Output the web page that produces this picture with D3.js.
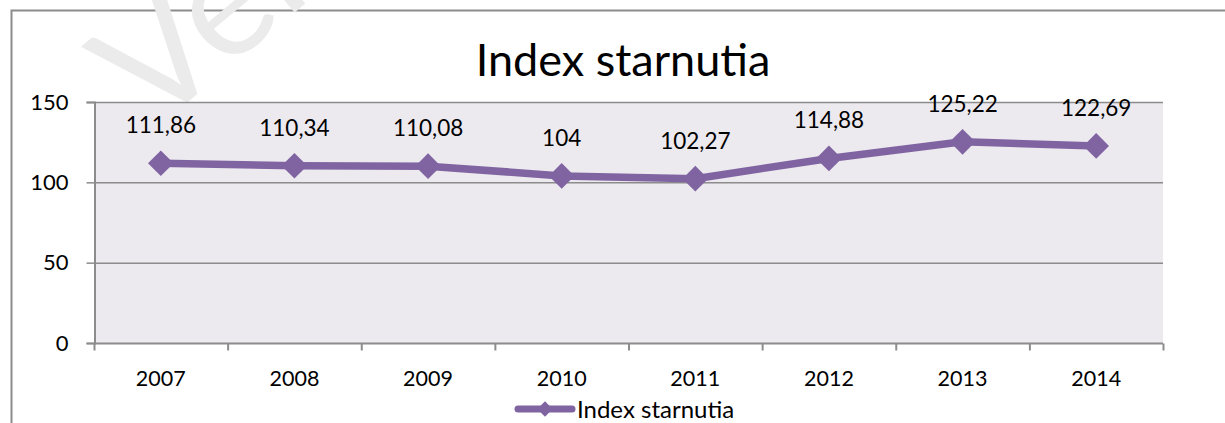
<!DOCTYPE html>
<html>
<head>
<meta charset="utf-8">
<script src="https://cdn.jsdelivr.net/npm/d3@7"></script>
<style>
  body { margin: 0; background: #fff; }
  svg { display: block; font-family: Lato, "Open Sans", sans-serif; }
</style>
</head>
<body>
<svg id="chart" width="1225" height="423"></svg>
<script>
// chart data
const years = ["2007", "2008", "2009", "2010", "2011", "2012", "2013", "2014"];
const indexValues = [111.86, 110.34, 110.08, 104, 102.27, 114.88, 125.22, 122.69];
const valueLabels = ["111,86", "110,34", "110,08", "104", "102,27", "114,88", "125,22", "122,69"];
const yTicks = [0, 50, 100, 150];
const seriesName = "Index starnutia";

const svg = d3.select("#chart");
const purple = "#8064a2";
const plot = { left: 94, right: 1163, top: 102, bottom: 343 };

// outer frame (runs off the right and bottom edge)
svg.append("path")
	.attr("d", "M11.5,430 V10.5 H1240")
	.attr("fill", "none")
	.attr("stroke", "#8c8c8c")
	.attr("stroke-width", 2);

// faint watermark, mostly hidden behind the plot area
svg.append("text")
	.attr("transform", "translate(152,132) rotate(-40)")
	.attr("font-size", 155)
	.attr("font-family", "Lato, sans-serif")
	.attr("fill", "#ebebeb")
	.text("Ver");

let x = d3.scaleBand().domain(years).range([plot.left, plot.right]);
let y = d3.scaleLinear().domain([0, 150]).range([plot.bottom, plot.top]);

svg.append("rect")
	.attr("x", plot.left).attr("y", plot.top)
	.attr("width", plot.right - plot.left).attr("height", plot.bottom - plot.top)
	.attr("fill", "#ece9ef");

// gridlines
svg.append("g")
	.selectAll("line")
	.data(yTicks.filter(d => d > 0))
	.enter().append("line")
	.attr("x1", plot.left).attr("x2", plot.right)
	.attr("y1", d => y(d) + 0.5).attr("y2", d => y(d) + 0.5)
	.attr("stroke", "#8c8c8c")
	.attr("stroke-width", 1.5);

// y axis
let yAxis = svg.append("g")
	.attr("transform", "translate(" + (plot.left + 0.5) + ",0)")
	.call(d3.axisLeft(y).tickValues(yTicks).tickSize(8).tickPadding(18));
yAxis.selectAll("text").attr("font-size", 22).attr("fill", "#000").attr("font-family", "Lato, sans-serif");
yAxis.select(".domain").attr("stroke", "#8c8c8c").attr("stroke-width", 2);
yAxis.selectAll(".tick line").attr("stroke", "#8c8c8c").attr("stroke-width", 1.5);

// x axis with ticks at category boundaries
let xg = svg.append("g").attr("transform", "translate(0," + (plot.bottom + 0.5) + ")");
xg.append("line").attr("x1", plot.left).attr("x2", plot.right).attr("stroke", "#8c8c8c").attr("stroke-width", 2);
xg.selectAll(".tk")
	.data(years.concat(["end"]))
	.enter().append("line")
	.attr("x1", (d, i) => plot.left + i * x.step() + 0.5)
	.attr("x2", (d, i) => plot.left + i * x.step() + 0.5)
	.attr("y1", 0).attr("y2", 7)
	.attr("stroke", "#8c8c8c").attr("stroke-width", 2);
xg.selectAll(".lbl")
	.data(years)
	.enter().append("text")
	.attr("x", d => x(d) + x.bandwidth() / 2)
	.attr("y", 42)
	.attr("text-anchor", "middle")
	.attr("font-size", 21.5)
	.text(d => d);

// title
svg.append("text")
	.attr("x", 623).attr("y", 76)
	.attr("text-anchor", "middle")
	.attr("font-size", 45)
	.text("Index starnutia");

// the series
let cx = d => x(d) + x.bandwidth() / 2;
let line = d3.line()
	.x((d, i) => cx(years[i]))
	.y(d => y(d));
svg.append("path")
	.datum(indexValues)
	.attr("d", line)
	.attr("fill", "none")
	.attr("stroke", purple)
	.attr("stroke-width", 7.5)
	.attr("stroke-linejoin", "round");

let diamond = d3.symbol().type(d3.symbolDiamond2).size(420);
svg.append("g")
	.selectAll("path")
	.data(indexValues)
	.enter().append("path")
	.attr("d", diamond)
	.attr("transform", (d, i) => "translate(" + cx(years[i]) + "," + y(d) + ")")
	.attr("fill", purple);

svg.append("g")
	.selectAll("text")
	.data(indexValues)
	.enter().append("text")
	.attr("x", (d, i) => cx(years[i]))
	.attr("y", d => y(d) - 30)
	.attr("text-anchor", "middle")
	.attr("font-size", 22.5)
	.text((d, i) => valueLabels[i]);

// legend
let lg = svg.append("g").attr("transform", "translate(518,409)");
lg.append("line").attr("x1", 0).attr("x2", 54).attr("stroke", purple).attr("stroke-width", 7).attr("stroke-linecap", "round");
lg.append("path").attr("d", d3.symbol().type(d3.symbolDiamond2).size(150)()).attr("transform", "translate(27,0)").attr("fill", purple);
lg.append("text").attr("x", 59).attr("y", 8.5).attr("font-size", 24).text(seriesName);
</script>
</body>
</html>
